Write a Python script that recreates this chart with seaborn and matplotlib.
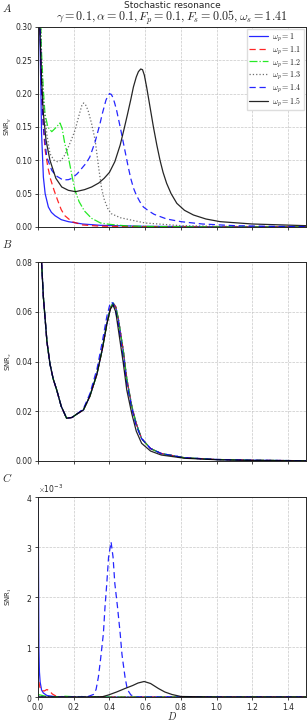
import numpy as np
import pandas as pd
import matplotlib
matplotlib.use("Agg")
import matplotlib.pyplot as plt
import seaborn as sns

sns.set_style("ticks")
plt.rcParams['font.family'] = ['DejaVu Sans']
plt.rcParams['mathtext.fontset'] = 'cm'

omegas = ['1', '1.1', '1.2', '1.3', '1.4', '1.5']
cores = ['#0000ff', '#ff0000', '#00e600', '#555555', '#0000ff', '#000000']
estilos = ['-', (0, (5, 3)), '-.', ':', (0, (5, 3)), '-']

# painel A: SNR_y
a_d1 = [0.004, 0.01, 0.02, 0.03, 0.04, 0.058, 0.075, 0.095, 0.13, 0.17, 0.25, 0.35, 0.6, 1.0, 1.5]
a_v1 = [0.40, 0.30, 0.14, 0.075, 0.05, 0.03, 0.022, 0.017, 0.011, 0.008, 0.0045, 0.0025, 0.001, 0.0005, 0.0003]
a_d2 = [0.004, 0.01, 0.02, 0.03, 0.04, 0.055, 0.07, 0.09, 0.11, 0.13, 0.15, 0.19, 0.25, 0.35, 0.6, 1.0, 1.5]
a_v2 = [0.42, 0.33, 0.21, 0.15, 0.115, 0.09, 0.072, 0.055, 0.04, 0.026, 0.017, 0.008, 0.003, 0.0012, 0.0005, 0.0002, 0.0001]
a_d3 = [0.004, 0.01, 0.02, 0.03, 0.039, 0.055, 0.077, 0.10, 0.123, 0.135, 0.15, 0.17, 0.19, 0.207, 0.23, 0.26, 0.30, 0.35, 0.4, 0.5, 0.7, 1.0, 1.5]
a_v3 = [0.45, 0.36, 0.26, 0.205, 0.17, 0.15, 0.143, 0.149, 0.156, 0.148, 0.125, 0.105, 0.077, 0.055, 0.038, 0.024, 0.013, 0.006, 0.004, 0.0015, 0.0005, 0.0002, 0.0001]
a_d4 = [0.004, 0.01, 0.02, 0.03, 0.049, 0.067, 0.09, 0.11, 0.13, 0.15, 0.17, 0.19, 0.207, 0.23, 0.245, 0.255, 0.265, 0.28, 0.30, 0.32, 0.34, 0.356, 0.37, 0.39, 0.41, 0.46, 0.52, 0.6, 0.8, 1.0, 1.5]
a_v4 = [0.45, 0.36, 0.25, 0.19, 0.14, 0.11, 0.10, 0.098, 0.10, 0.108, 0.12, 0.133, 0.145, 0.168, 0.182, 0.186, 0.184, 0.175, 0.155, 0.13, 0.088, 0.058, 0.042, 0.028, 0.02, 0.014, 0.0105, 0.006, 0.002, 0.001, 0.0003]
a_d5 = [0.004, 0.01, 0.02, 0.03, 0.049, 0.077, 0.10, 0.14, 0.17, 0.19, 0.22, 0.245, 0.27, 0.29, 0.32, 0.347, 0.36, 0.37, 0.38, 0.39, 0.40, 0.41, 0.42, 0.43, 0.44, 0.46, 0.475, 0.49, 0.505, 0.52, 0.535, 0.55, 0.57, 0.59, 0.62, 0.65, 0.72, 0.8, 0.92, 1.1, 1.3, 1.5]
a_v5 = [0.45, 0.33, 0.2, 0.15, 0.105, 0.085, 0.077, 0.0705, 0.071, 0.073, 0.08, 0.088, 0.096, 0.105, 0.128, 0.155, 0.17, 0.18, 0.19, 0.196, 0.20, 0.199, 0.194, 0.185, 0.175, 0.15, 0.13, 0.11, 0.09, 0.072, 0.058, 0.048, 0.038, 0.03, 0.024, 0.019, 0.012, 0.008, 0.0045, 0.002, 0.001, 0.0005]
a_d6 = [0.004, 0.01, 0.02, 0.03, 0.045, 0.067, 0.10, 0.133, 0.17, 0.21, 0.26, 0.30, 0.34, 0.37, 0.40, 0.43, 0.46, 0.48, 0.50, 0.52, 0.534, 0.55, 0.562, 0.575, 0.585, 0.595, 0.608, 0.627, 0.646, 0.665, 0.683, 0.70, 0.72, 0.745, 0.777, 0.82, 0.87, 0.94, 1.02, 1.2, 1.5]
a_v6 = [0.45, 0.30, 0.22, 0.17, 0.13, 0.10, 0.073, 0.060, 0.055, 0.053, 0.056, 0.060, 0.066, 0.073, 0.082, 0.098, 0.123, 0.145, 0.168, 0.192, 0.21, 0.225, 0.233, 0.237, 0.236, 0.228, 0.21, 0.18, 0.150, 0.123, 0.10, 0.082, 0.0655, 0.05, 0.0355, 0.025, 0.018, 0.012, 0.008, 0.0045, 0.002]

# painel B: SNR_x
b_d = [0.004, 0.01, 0.02, 0.03, 0.039, 0.05, 0.067, 0.085, 0.105, 0.13, 0.16, 0.19, 0.22, 0.254, 0.29, 0.33, 0.36, 0.385, 0.405, 0.42, 0.435, 0.45, 0.478, 0.497, 0.525, 0.55, 0.58, 0.63, 0.69, 0.82, 1.0, 1.2, 1.5]
b_preto = [0.12, 0.10, 0.08, 0.066, 0.058, 0.048, 0.039, 0.033, 0.0285, 0.022, 0.0172, 0.0175, 0.019, 0.0205, 0.026, 0.035, 0.045, 0.055, 0.061, 0.0627, 0.060, 0.0527, 0.039, 0.0285, 0.019, 0.012, 0.0071, 0.004, 0.0024, 0.0011, 0.0005, 0.0002, 0.0001]
b_cores = [0.12, 0.10, 0.08, 0.066, 0.058, 0.048, 0.039, 0.033, 0.0285, 0.022, 0.0172, 0.0175, 0.019, 0.0205, 0.026, 0.035, 0.045, 0.055, 0.0615, 0.0635, 0.062, 0.057, 0.044, 0.033, 0.022, 0.015, 0.009, 0.005, 0.003, 0.0013, 0.0006, 0.0003, 0.0001]
b_azul = [0.12, 0.10, 0.08, 0.066, 0.058, 0.048, 0.039, 0.033, 0.0285, 0.022, 0.0172, 0.0175, 0.019, 0.021, 0.027, 0.037, 0.048, 0.058, 0.0638, 0.0635, 0.060, 0.055, 0.041, 0.031, 0.021, 0.014, 0.009, 0.005, 0.003, 0.0013, 0.0006, 0.0003, 0.0001]

# painel C: SNR_1 (unidades de 1e-3)
c_d1 = [0.0005, 0.003, 0.005, 0.008, 0.012, 0.02, 0.03, 0.05, 0.1, 0.2, 1.5]
c_v1 = [4.5, 2.5, 1.0, 0.5, 0.3, 0.14, 0.08, 0.03, 0.005, 0.0, 0.0]
c_d2 = [0.0005, 0.003, 0.01, 0.02, 0.035, 0.05, 0.065, 0.08, 0.1, 0.13, 0.5, 1.5]
c_v2 = [0.5, 0.34, 0.2, 0.13, 0.12, 0.15, 0.12, 0.06, 0.02, 0.0, 0.0, 0.0]
c_d3 = [0.0005, 0.05, 0.12, 0.15, 0.18, 0.22, 1.5]
c_v3 = [0.05, 0.01, 0.005, 0.015, 0.01, 0.0, 0.0]
c_d4 = [0.0005, 0.1, 0.2, 0.25, 0.3, 0.35, 1.5]
c_v4 = [0.02, 0.0, 0.005, 0.01, 0.005, 0.0, 0.0]
c_d5 = [0.0005, 0.1, 0.25, 0.28, 0.31, 0.325, 0.338, 0.35, 0.366, 0.375, 0.385, 0.395, 0.409, 0.42, 0.43, 0.445, 0.46, 0.47, 0.487, 0.50, 0.52, 0.55, 0.7, 1.5]
c_v5 = [0.0, 0.0, 0.0, 0.01, 0.05, 0.15, 0.4, 0.75, 1.27, 1.8, 2.27, 2.8, 3.1, 2.8, 2.27, 1.8, 1.27, 0.85, 0.4, 0.15, 0.04, 0.0, 0.0, 0.0]
c_d6 = [0.0005, 0.3, 0.36, 0.394, 0.44, 0.487, 0.53, 0.56, 0.594, 0.63, 0.674, 0.71, 0.75, 0.8, 1.0, 1.5]
c_v6 = [0.0, 0.0, 0.005, 0.04, 0.10, 0.17, 0.23, 0.28, 0.31, 0.27, 0.17, 0.10, 0.05, 0.01, 0.0, 0.0]

painel_a = [(a_d1, a_v1), (a_d2, a_v2), (a_d3, a_v3), (a_d4, a_v4), (a_d5, a_v5), (a_d6, a_v6)]
painel_b = [(b_d, b_cores), (b_d, b_cores), (b_d, b_cores), (b_d, b_cores), (b_d, b_azul), (b_d, b_preto)]
painel_c = [(c_d1, c_v1), (c_d2, c_v2), (c_d3, c_v3), (c_d4, c_v4), (c_d5, c_v5), (c_d6, c_v6)]

W, H = 307, 722
fig = plt.figure(figsize=(W / 100, H / 100), dpi=100)

def caixa(top, bottom, left=38, right=306):
    return [left / W, 1 - bottom / H, (right - left) / W, (bottom - top) / H]

axA = fig.add_axes(caixa(27, 227))
axB = fig.add_axes(caixa(262, 461))
axC = fig.add_axes(caixa(497, 697))

for ax, curvas, escala in [(axA, painel_a, 1), (axB, painel_b, 1), (axC, painel_c, 1e-3)]:
    for i, (d, v) in enumerate(curvas):
        df = pd.DataFrame({'D': d, 'snr': np.array(v) * escala})
        sns.lineplot(data=df, x='D', y='snr', ax=ax, color=cores[i], linestyle=estilos[i],
                     lw=0.9, alpha=0.85, sort=False, label=r'$\omega_p = %s$' % omegas[i])
    ax.set_xlim(0, 1.5)
    ax.set_xticks(np.arange(0, 1.41, 0.2))
    ax.grid(True, ls='--', color='#c8c8c8', lw=0.5)
    ax.tick_params(labelsize=5.5, length=2.5, width=0.6, pad=1.5)
    for s in ax.spines.values():
        s.set_linewidth(0.7)
    ax.set_xlabel('')
    ax.yaxis.set_label_coords(-0.09, 0.5)

axA.set_ylim(0, 0.30)
axA.set_yticks(np.arange(0, 0.301, 0.05))
axA.yaxis.set_major_formatter(matplotlib.ticker.FormatStrFormatter('%.2f'))
axA.set_ylabel(r'SNR$_y$', fontsize=5)
axA.tick_params(labelbottom=False)
axA.legend(loc='upper right', fontsize=5.8, handlelength=2.4, handletextpad=0.5,
           borderpad=0.3, borderaxespad=0.2, labelspacing=0.1, framealpha=1,
           edgecolor='#dddddd', fancybox=False)

fig.text(172 / W, 1 - 5 / H, 'Stochastic resonance', fontsize=6.5, ha='center', va='center')
fig.text(172 / W, 1 - 18 / H, r'$\gamma = 0.1, \alpha = 0.1, F_p = 0.1, F_s = 0.05, \omega_s = 1.41$',
         fontsize=8.7, ha='center', va='center')

axB.set_ylim(0, 0.08)
axB.set_yticks(np.arange(0, 0.081, 0.02))
axB.yaxis.set_major_formatter(matplotlib.ticker.FormatStrFormatter('%.2f'))
axB.set_ylabel(r'SNR$_x$', fontsize=5)
axB.tick_params(labelbottom=False)
axB.get_legend().remove()

axC.set_ylim(0, 0.004)
axC.set_yticks(np.arange(0, 0.0041, 0.001))
axC.ticklabel_format(axis='y', style='sci', scilimits=(0, 0), useMathText=True)
axC.yaxis.get_offset_text().set_fontsize(5.5)
axC.set_ylabel(r'SNR$_1$', fontsize=5)
axC.set_xlabel(r'$D$', fontsize=7.2, labelpad=-1)
axC.get_legend().remove()

for letra, y in [('A', 8), ('B', 244), ('C', 478)]:
    fig.text(2 / W, 1 - y / H, '$%s$' % letra, fontsize=8, va='center', ha='left')

fig.savefig('out.png', dpi=100)
